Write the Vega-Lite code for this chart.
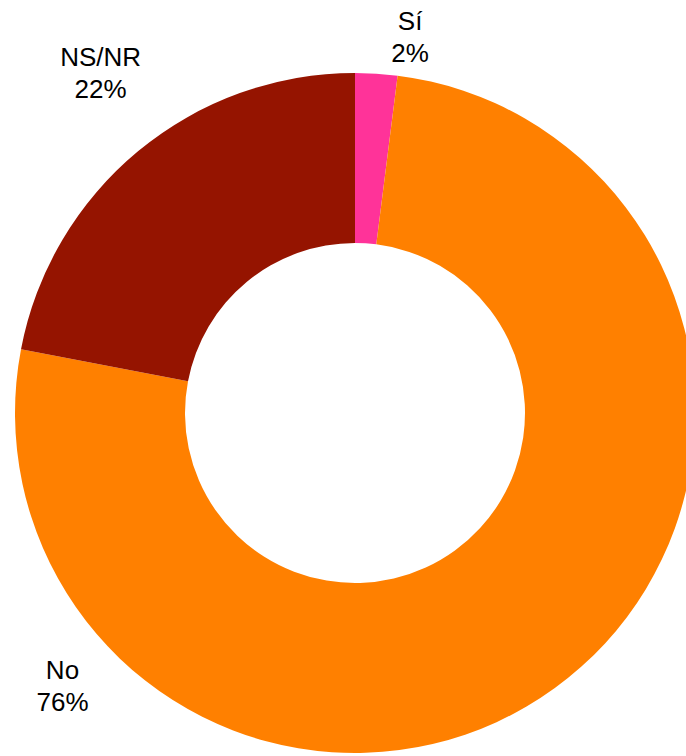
{
  "$schema": "https://vega.github.io/schema/vega-lite/v6.json",
  "width": 680,
  "height": 680,
  "autosize": {"type": "none"},
  "padding": {"left": 15, "top": 73, "right": 0, "bottom": 3},
  "background": "white",
  "config": {
    "view": {"stroke": null},
    "text": {"font": "Liberation Sans", "fontSize": 26, "lineHeight": 32, "lineBreak": "\n", "color": "black"}
  },
  "data": {
    "values": [
      {"categoria": "Sí", "porcentaje": 2, "orden": 1},
      {"categoria": "No", "porcentaje": 76, "orden": 2},
      {"categoria": "NS/NR", "porcentaje": 22, "orden": 3}
    ]
  },
  "layer": [
    {
      "mark": {"type": "arc", "outerRadius": 340, "innerRadius": 170},
      "encoding": {
        "theta": {"field": "porcentaje", "type": "quantitative", "stack": true},
        "order": {"field": "orden", "type": "quantitative"},
        "color": {
          "field": "categoria",
          "type": "nominal",
          "scale": {"domain": ["Sí", "No", "NS/NR"], "range": ["#FF3399", "#FF8000", "#951400"]},
          "legend": null
        }
      }
    },
    {
      "transform": [
        {"stack": "porcentaje", "groupby": [], "sort": [{"field": "orden", "order": "ascending"}], "as": ["t0", "t1"]},
        {"filter": "datum.categoria === 'Sí'"},
        {"calculate": "datum.categoria + '\\n' + datum.porcentaje + '%'", "as": "etiqueta"}
      ],
      "mark": {"type": "text", "radius": 395, "thetaOffset": 0.14},
      "encoding": {
        "theta": {"field": "t0", "type": "quantitative", "stack": null},
        "text": {"field": "etiqueta", "type": "nominal"}
      }
    },
    {
      "transform": [
        {"stack": "porcentaje", "groupby": [], "sort": [{"field": "orden", "order": "ascending"}], "as": ["t0", "t1"]},
        {"filter": "datum.categoria === 'NS/NR'"},
        {"calculate": "datum.categoria + '\\n' + datum.porcentaje + '%'", "as": "etiqueta"}
      ],
      "mark": {"type": "text", "radius": 437, "thetaOffset": 0.761},
      "encoding": {
        "theta": {"field": "t0", "type": "quantitative", "stack": null},
        "text": {"field": "etiqueta", "type": "nominal"}
      }
    },
    {
      "transform": [
        {"stack": "porcentaje", "groupby": [], "sort": [{"field": "orden", "order": "ascending"}], "as": ["t0", "t1"]},
        {"filter": "datum.categoria === 'No'"},
        {"calculate": "datum.categoria + '\\n' + datum.porcentaje + '%'", "as": "etiqueta"}
      ],
      "mark": {"type": "text", "radius": 390, "thetaOffset": 3.864},
      "encoding": {
        "theta": {"field": "t0", "type": "quantitative", "stack": null},
        "text": {"field": "etiqueta", "type": "nominal"}
      }
    }
  ]
}
